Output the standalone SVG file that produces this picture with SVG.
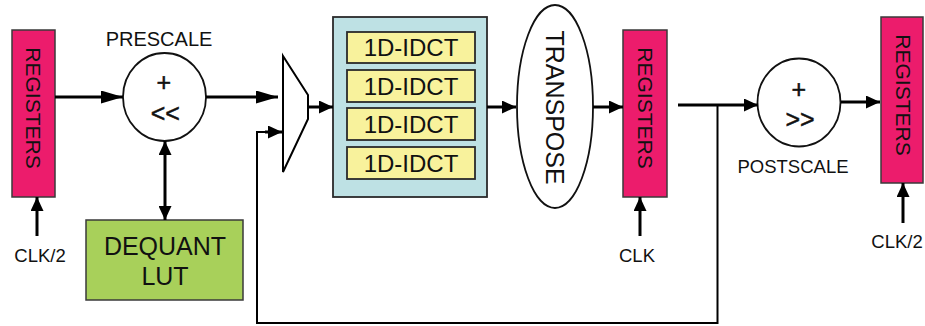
<svg xmlns="http://www.w3.org/2000/svg" width="925" height="326" viewBox="0 0 925 326">
  <defs>
    <style>
      text { font-family: "Liberation Sans", Arial, sans-serif; fill: #111; }
      .reg { fill: #EC1C6C; stroke: #3a3a3a; stroke-width: 1.5; }
      .reg-t { font-size: 21px; text-anchor: middle; }
      .lbl { font-size: 18.5px; text-anchor: middle; }
      .op { fill: #fff; stroke: #111; stroke-width: 1.8; }
      .op-t { font-size: 25px; text-anchor: middle; stroke: #111; stroke-width: 0.5; }
      .wire { fill: none; stroke: #000; stroke-width: 3; }
      .thin { fill: none; stroke: #000; stroke-width: 2; }
      .idct { fill: #F8F29C; stroke: #2a2a2a; stroke-width: 1.8; }
      .idct-t { font-size: 24px; text-anchor: middle; }
    </style>
    <marker id="ah" viewBox="0 0 10 10" refX="10" refY="5" markerUnits="userSpaceOnUse" markerWidth="22" markerHeight="13" orient="auto-start-reverse" preserveAspectRatio="none">
      <path d="M0,0 L10,5 L0,10 Z" fill="#000"/>
    </marker>
    <marker id="ahs" viewBox="0 0 10 10" refX="10" refY="5" markerUnits="userSpaceOnUse" markerWidth="14" markerHeight="13" orient="auto-start-reverse" preserveAspectRatio="none">
      <path d="M0,0 L10,5 L0,10 Z" fill="#000"/>
    </marker>
  </defs>

  <!-- input registers -->
  <g id="reg-in">
    <rect class="reg" x="12" y="30" width="43" height="167"/>
    <text class="reg-t" transform="translate(25.5,108) rotate(90)">REGISTERS</text>
    <text class="lbl" x="40" y="262">CLK/2</text>
  </g>

  <!-- prescale operator -->
  <g id="prescale">
    <ellipse class="op" cx="164.5" cy="97" rx="41.5" ry="44"/>
    <text class="op-t" x="163.7" y="91">+</text>
    <text class="op-t" x="165.3" y="122">&lt;&lt;</text>
    <text class="lbl" x="159" y="46" style="font-size:20px">PRESCALE</text>
  </g>

  <!-- dequant lookup table -->
  <g id="dequant">
    <rect x="86" y="220" width="157" height="80" fill="#A8D05A" stroke="#3a3a3a" stroke-width="1.5"/>
    <text x="165" y="255" font-size="25" text-anchor="middle">DEQUANT</text>
    <text x="165" y="285" font-size="25" text-anchor="middle">LUT</text>
  </g>

  <!-- input multiplexer -->
  <g id="mux">
    <polygon points="283,56 308,95 308,119 283,172" fill="#fff" stroke="#000" stroke-width="2"/>
  </g>

  <!-- 1D-IDCT bank -->
  <g id="idct-bank">
    <rect x="333" y="17" width="154" height="180" fill="#BEE1E4" stroke="#2a2a2a" stroke-width="1.8"/>
    <rect class="idct" x="347" y="32" width="128" height="31"/>
    <rect class="idct" x="347" y="70" width="128" height="32"/>
    <rect class="idct" x="347" y="108" width="128" height="32"/>
    <rect class="idct" x="347" y="147" width="128" height="32"/>
    <text class="idct-t" x="411" y="56">1D-IDCT</text>
    <text class="idct-t" x="411" y="95">1D-IDCT</text>
    <text class="idct-t" x="411" y="133">1D-IDCT</text>
    <text class="idct-t" x="411" y="172">1D-IDCT</text>
  </g>

  <!-- transpose -->
  <g id="transpose">
    <ellipse cx="555" cy="106.5" rx="38" ry="101.5" fill="#fff" stroke="#111" stroke-width="1.8"/>
    <text transform="translate(546,107.5) rotate(90)" font-size="25" text-anchor="middle">TRANSPOSE</text>
  </g>

  <!-- pipeline registers -->
  <g id="reg-mid">
    <rect class="reg" x="623" y="30" width="44" height="167"/>
    <text class="reg-t" transform="translate(637.5,108) rotate(90)">REGISTERS</text>
    <text class="lbl" x="637" y="262">CLK</text>
  </g>

  <!-- postscale operator -->
  <g id="postscale">
    <ellipse class="op" cx="799" cy="102.5" rx="41.5" ry="44"/>
    <text class="op-t" x="798.7" y="97.5">+</text>
    <text class="op-t" x="800" y="127.5">&gt;&gt;</text>
    <text class="lbl" x="793" y="173">POSTSCALE</text>
  </g>

  <!-- output registers -->
  <g id="reg-out">
    <rect class="reg" x="881" y="17" width="42" height="166"/>
    <text class="reg-t" transform="translate(895.5,95) rotate(90)">REGISTERS</text>
    <text class="lbl" x="897" y="248">CLK/2</text>
  </g>

  <!-- connectors -->
  <g id="connectors">
    <line class="wire" x1="55" y1="97" x2="123" y2="97" marker-end="url(#ah)"/>
    <line class="wire" x1="206" y1="97" x2="278" y2="97" marker-end="url(#ah)"/>
    <line class="wire" x1="165" y1="141" x2="165" y2="220" marker-start="url(#ahs)" marker-end="url(#ahs)"/>
    <line class="wire" x1="37" y1="236" x2="37" y2="197" marker-end="url(#ahs)"/>
    <line class="wire" x1="308" y1="107" x2="333" y2="107" marker-end="url(#ahs)"/>
    <line class="wire" x1="487" y1="107" x2="516" y2="107" marker-end="url(#ahs)"/>
    <line class="wire" x1="593" y1="107" x2="623" y2="107" marker-end="url(#ahs)"/>
    <line class="wire" x1="640" y1="236" x2="640" y2="197" marker-end="url(#ahs)"/>
    <line class="wire" x1="678" y1="105" x2="758" y2="105" marker-end="url(#ahs)"/>
    <line class="wire" x1="841" y1="102" x2="880" y2="102" marker-end="url(#ahs)"/>
    <line class="wire" x1="903" y1="223" x2="903" y2="183" marker-end="url(#ahs)"/>
    <!-- feedback path into the second mux input -->
    <polyline class="thin" points="717.5,105 717.5,323 257,323 257,132 268,132"/>
    <line class="wire" x1="265" y1="132" x2="282" y2="132" marker-end="url(#ahs)"/>
  </g>
</svg>
